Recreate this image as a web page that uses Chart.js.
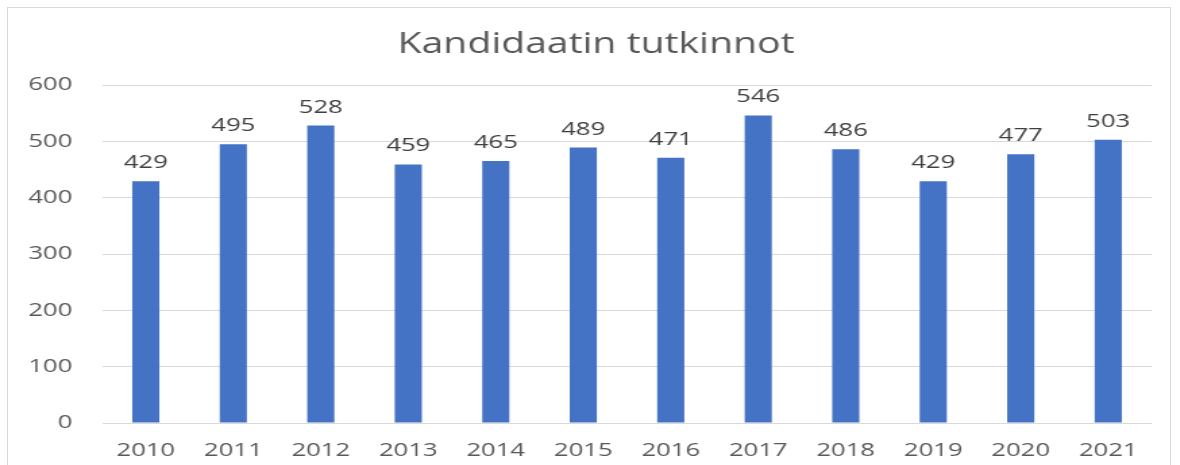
<!DOCTYPE html>
<html>
<head>
<meta charset="utf-8">
<script src="https://cdn.jsdelivr.net/npm/chart.js@4/dist/chart.umd.min.js"></script>
<style>
  html, body { margin: 0; padding: 0; background: #fff; overflow: hidden; }
  #wrap { position: relative; width: 1180px; height: 465px; }
  /* kuva on venytetty vaakasuunnassa kuten alkuperäinen */
  #stretch { position: absolute; left: 0; top: 0; width: 874px; height: 465px; transform: scaleX(1.35); transform-origin: 0 0; }
  #frame { position: absolute; left: 7px; top: 7px; width: 1164px; height: 470px; border: 1px solid #d9d9d9; box-sizing: border-box; pointer-events: none; }
</style>
</head>
<body>
<div id="wrap">
  <div id="stretch"><canvas id="chart" width="874" height="465"></canvas></div>
  <div id="frame"></div>
</div>
<script>
const years = ['2010', '2011', '2012', '2013', '2014', '2015', '2016', '2017', '2018', '2019', '2020', '2021'];
const degrees = [429, 495, 528, 459, 465, 489, 471, 546, 486, 429, 477, 503];
const chartTitle = 'Kandidaatin tutkinnot';

const FONT = "'Open Sans', 'DejaVu Sans', sans-serif";

// otsikko piirretään itse
const titleText = {
    id: 'titleText',
    afterDraw(chart) {
        const ctx = chart.ctx;
        ctx.save();
        ctx.font = '29px ' + FONT;
        ctx.fillStyle = '#595959';
        ctx.textAlign = 'center';
        ctx.textBaseline = 'alphabetic';
        ctx.fillText(chartTitle, 441.5, 53);
        ctx.restore();
    }
};

// arvot pylväiden yläpuolelle
const valueLabels = {
    id: 'valueLabels',
    afterDatasetsDraw(chart) {
        const ctx = chart.ctx;
        const meta = chart.getDatasetMeta(0);
        ctx.save();
        ctx.font = '19px ' + FONT;
        ctx.fillStyle = '#404040';
        ctx.textAlign = 'center';
        ctx.textBaseline = 'alphabetic';
        meta.data.forEach((bar, i) => {
            ctx.fillText(String(degrees[i]), bar.x, bar.y - 13);
        });
        ctx.restore();
    }
};

new Chart(document.getElementById('chart').getContext('2d'), {
    type: 'bar',
    data: {
        labels: years,
        datasets: [{
            data: degrees,
            backgroundColor: '#4472C4',
            barPercentage: 0.31,
            categoryPercentage: 1
        }]
    },
    options: {
        responsive: false,
        animation: false,
        layout: { padding: { left: 0, right: 20.7, top: 85, bottom: 0 } },
        plugins: {
            legend: { display: false },
            tooltip: { enabled: false },
            title: { display: false }
        },
        scales: {
            x: {
                grid: { display: false },
                border: { display: false },
                ticks: { color: '#595959', font: { family: FONT, size: 19 }, padding: 8 },
                afterFit(scale) { scale.height = 42; }
            },
            y: {
                min: 0,
                max: 600,
                ticks: { stepSize: 100, color: '#595959', font: { family: FONT, size: 19 }, padding: 22 },
                grid: { color: '#d9d9d9', drawTicks: false },
                border: { display: false },
                afterFit(scale) { scale.width = 75.6; }
            }
        }
    },
    plugins: [titleText, valueLabels]
});
</script>
</body>
</html>
